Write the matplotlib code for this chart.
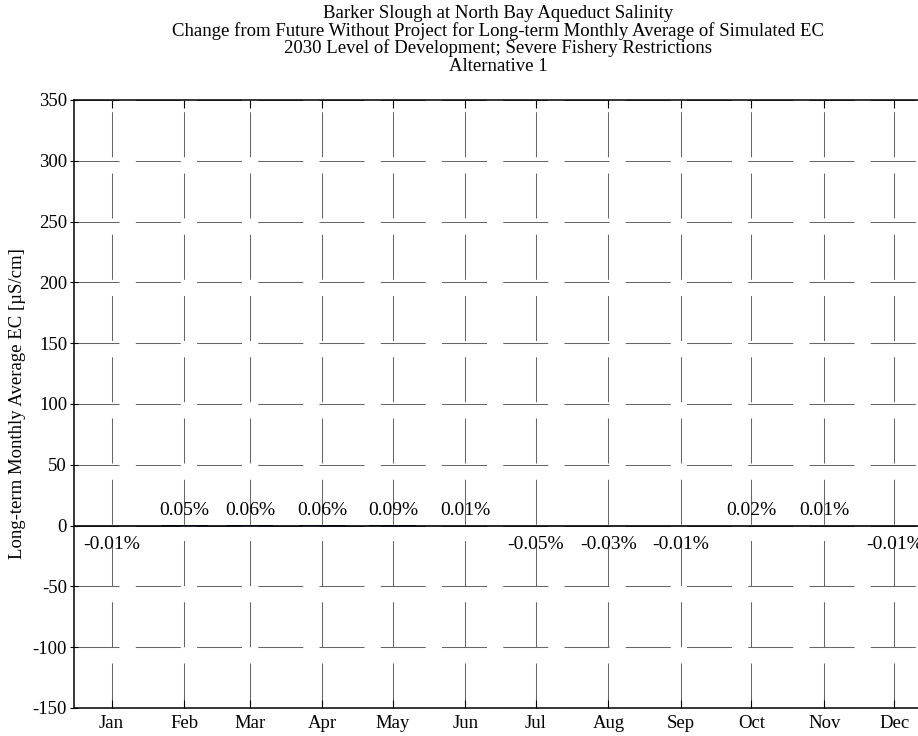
import numpy as np
import matplotlib
matplotlib.use("Agg")
import matplotlib.pyplot as plt

# data
months = ["Jan", "Feb", "Mar", "Apr", "May", "Jun",
          "Jul", "Aug", "Sep", "Oct", "Nov", "Dec"]
month_days = [31, 28, 31, 30, 31, 30, 31, 31, 30, 31, 30, 31]
ec_change = [-0.03, 0.16, 0.19, 0.18, 0.25, 0.03,
             -0.12, -0.08, -0.03, 0.06, 0.03, -0.03]   # uS/cm, too small to see
pct_labels = ["-0.01%", "0.05%", "0.06%", "0.06%", "0.09%", "0.01%",
              "-0.05%", "-0.03%", "-0.01%", "0.02%", "0.01%", "-0.01%"]
yticks = [-150, -100, -50, 0, 50, 100, 150, 200, 250, 300, 350]
title_lines = ["Barker Slough at North Bay Aqueduct Salinity",
               "Change from Future Without Project for Long-term Monthly Average of Simulated EC",
               "2030 Level of Development; Severe Fishery Restrictions",
               "Alternative 1"]

plt.rcParams['font.family'] = ['Liberation Serif', 'DejaVu Serif']

# mid-month positions (day of year, Jan 1 = 0)
starts = np.concatenate([[0], np.cumsum(month_days)[:-1]])
xpos = starts + 14

fig = plt.figure(figsize=(9.18, 7.36), dpi=100)
ax = fig.add_axes([74/918, 28/736, (932-74)/918, 608/736])

ax.bar(xpos, ec_change, width=20, color='#1f3f8f', zorder=2)
ax.axhline(0, color='k', lw=1.2, zorder=3)

for x, v, lab in zip(xpos, ec_change, pct_labels):
    off = 11 if v >= 0 else -13.5
    ax.annotate(lab, (x, 0), xytext=(0, off), textcoords='offset points',
                ha='center', va='center', fontsize=14)

ax.set_xlim(-2, 364)
ax.set_ylim(-150, 350)
ax.set_xticks(xpos)
ax.set_xticklabels(months, fontsize=13.5)
ax.set_yticks(yticks)
ax.set_yticklabels([str(t) for t in yticks], fontsize=13.5)
ax.tick_params(axis='x', direction='in', length=5.5, width=0.8, pad=5, top=True)
ax.tick_params(axis='y', direction='inout', length=6, width=0.8, pad=2)

lw = 0.75
dash = (0, (32.4/lw, 11.7/lw))
ax.grid(True, color='0.4', lw=lw, linestyle=dash, zorder=1)
ax.set_axisbelow(True)

for s in ax.spines.values():
    s.set_linewidth(1.1)

ax.set_ylabel("Long-term Monthly Average EC [\u00b5S/cm]", fontsize=13.5)
ax.yaxis.set_label_coords(-0.056, 0.5)

# title lines, one by one
for i, line in enumerate(title_lines):
    fig.text(498/918, 1 - (13 + 17.7*i)/736, line, ha='center', va='center',
             fontsize=13.5)

fig.savefig("out.png", dpi=100)
